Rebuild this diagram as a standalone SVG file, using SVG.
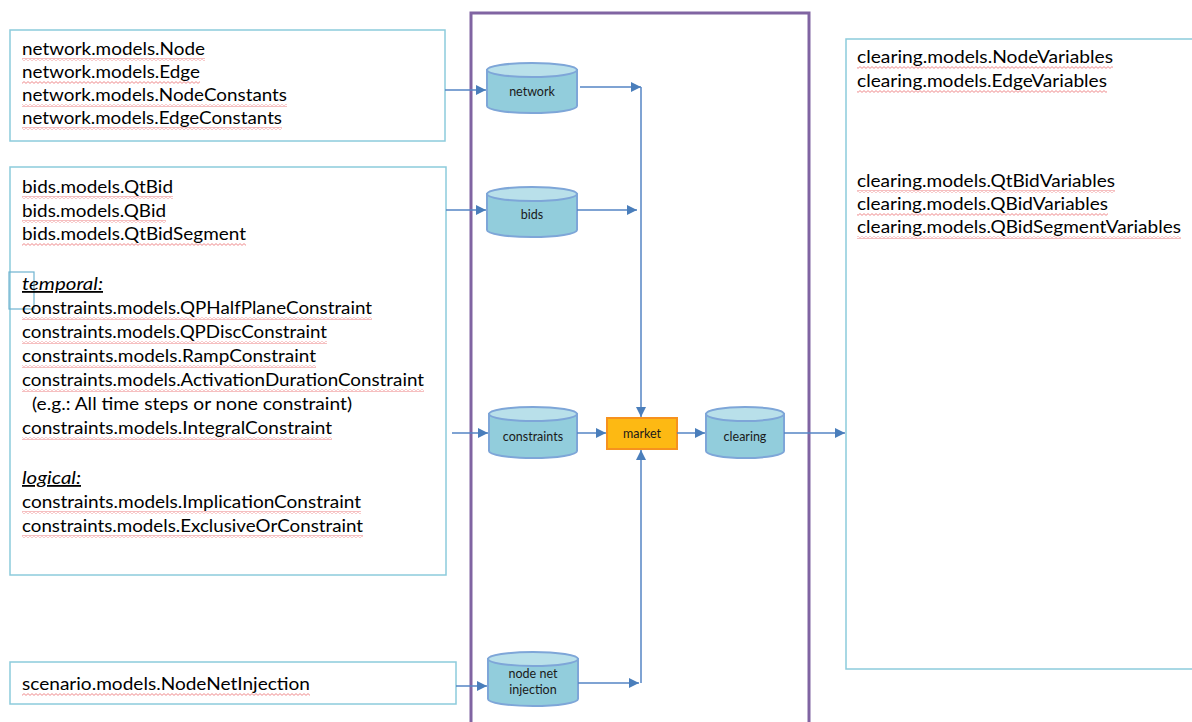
<svg xmlns="http://www.w3.org/2000/svg" width="1192" height="722" viewBox="0 0 1192 722">
<style>
.box{fill:#fff;stroke:#8ccbdc;stroke-width:1.5}
.t{font-family:Lato,"Open Sans","Liberation Sans",sans-serif;font-size:18px;fill:#000}
.it{font-style:italic;text-decoration:underline}
.cyl{fill:#92cddc;stroke:#7ea6d8;stroke-width:2}
.cyltop{fill:#b9e0ea;stroke:#7ea6d8;stroke-width:2}
.cl{font-family:Lato,"Open Sans","Liberation Sans",sans-serif;font-size:12.5px;fill:#1a1a1a;text-anchor:middle}
.c{fill:none;stroke:#5585c5;stroke-width:1.5}
.wave{fill:url(#wv)}
</style>
<defs>
<marker id="ah" markerUnits="userSpaceOnUse" markerWidth="12" markerHeight="10" refX="10" refY="5" orient="auto">
<path d="M0,0 L10,5 L0,10 Z" fill="#4a7ebb"/>
</marker>
<pattern id="wv" patternUnits="userSpaceOnUse" width="4" height="3">
<path d="M0,0.6 L2,2.4 L4,0.6" fill="none" stroke="#e8595c" stroke-width="0.7"/>
</pattern>
</defs>
<rect width="1192" height="722" fill="#fff"/>

<g id="frame">
<rect x="471" y="13" width="338" height="720" fill="none" stroke="#8064a2" stroke-width="3"/>
</g>

<g id="box-network">
<rect class="box" x="10" y="30" width="435" height="111"/>
<text class="t" x="22" y="55" textLength="183" lengthAdjust="spacingAndGlyphs">network.models.Node</text>
<text class="t" x="22" y="78" textLength="178" lengthAdjust="spacingAndGlyphs">network.models.Edge</text>
<text class="t" x="22" y="101" textLength="265" lengthAdjust="spacingAndGlyphs">network.models.NodeConstants</text>
<text class="t" x="22" y="124" textLength="260" lengthAdjust="spacingAndGlyphs">network.models.EdgeConstants</text>
<rect class="wave" x="22" y="58" width="183" height="3"/>
<rect class="wave" x="22" y="81" width="178" height="3"/>
<rect class="wave" x="22" y="104" width="265" height="3"/>
<rect class="wave" x="22" y="127" width="260" height="3"/>
</g>

<g id="box-bids">
<rect class="box" x="10" y="167" width="436" height="408"/>
<rect x="9" y="272" width="25" height="37" fill="none" stroke="#6fb3d0" stroke-width="1.2"/>
<text class="t" x="22" y="193" textLength="151" lengthAdjust="spacingAndGlyphs">bids.models.QtBid</text>
<text class="t" x="22" y="217" textLength="144" lengthAdjust="spacingAndGlyphs">bids.models.QBid</text>
<text class="t" x="22" y="240" textLength="224" lengthAdjust="spacingAndGlyphs">bids.models.QtBidSegment</text>
<text class="t it" x="22" y="290" textLength="81" lengthAdjust="spacingAndGlyphs">temporal:</text>
<text class="t" x="22" y="314" textLength="350" lengthAdjust="spacingAndGlyphs">constraints.models.QPHalfPlaneConstraint</text>
<text class="t" x="22" y="338" textLength="305" lengthAdjust="spacingAndGlyphs">constraints.models.QPDiscConstraint</text>
<text class="t" x="22" y="362" textLength="294" lengthAdjust="spacingAndGlyphs">constraints.models.RampConstraint</text>
<text class="t" x="22" y="386" textLength="402" lengthAdjust="spacingAndGlyphs">constraints.models.ActivationDurationConstraint</text>
<text class="t" x="32" y="410" textLength="320" lengthAdjust="spacingAndGlyphs">(e.g.: All time steps or none constraint)</text>
<text class="t" x="22" y="434" textLength="310" lengthAdjust="spacingAndGlyphs">constraints.models.IntegralConstraint</text>
<text class="t it" x="22" y="484" textLength="59" lengthAdjust="spacingAndGlyphs">logical:</text>
<text class="t" x="22" y="508" textLength="339" lengthAdjust="spacingAndGlyphs">constraints.models.ImplicationConstraint</text>
<text class="t" x="22" y="532" textLength="341" lengthAdjust="spacingAndGlyphs">constraints.models.ExclusiveOrConstraint</text>
<rect class="wave" x="22" y="196" width="151" height="3"/>
<rect class="wave" x="22" y="220" width="144" height="3"/>
<rect class="wave" x="22" y="243" width="224" height="3"/>
<rect class="wave" x="22" y="317" width="350" height="3"/>
<rect class="wave" x="22" y="341" width="305" height="3"/>
<rect class="wave" x="22" y="365" width="294" height="3"/>
<rect class="wave" x="22" y="389" width="402" height="3"/>
<rect class="wave" x="22" y="437" width="310" height="3"/>
<rect class="wave" x="22" y="511" width="339" height="3"/>
<rect class="wave" x="22" y="535" width="341" height="3"/>
</g>

<g id="box-scenario">
<rect class="box" x="10" y="662" width="446" height="42"/>
<text class="t" x="22" y="690" textLength="288" lengthAdjust="spacingAndGlyphs">scenario.models.NodeNetInjection</text>
<rect class="wave" x="22" y="693" width="288" height="3"/>
</g>

<g id="box-clearing">
<rect class="box" x="846" y="39" width="360" height="630"/>
<text class="t" x="857" y="63" textLength="256" lengthAdjust="spacingAndGlyphs">clearing.models.NodeVariables</text>
<text class="t" x="857" y="87" textLength="250" lengthAdjust="spacingAndGlyphs">clearing.models.EdgeVariables</text>
<text class="t" x="857" y="187" textLength="258" lengthAdjust="spacingAndGlyphs">clearing.models.QtBidVariables</text>
<text class="t" x="857" y="210" textLength="251" lengthAdjust="spacingAndGlyphs">clearing.models.QBidVariables</text>
<text class="t" x="857" y="233" textLength="324" lengthAdjust="spacingAndGlyphs">clearing.models.QBidSegmentVariables</text>
<rect class="wave" x="857" y="66" width="256" height="3"/>
<rect class="wave" x="857" y="90" width="250" height="3"/>
<rect class="wave" x="857" y="190" width="258" height="3"/>
<rect class="wave" x="857" y="213" width="251" height="3"/>
<rect class="wave" x="857" y="236" width="324" height="3"/>
</g>

<g id="cyl-network">
<path class="cyl" d="M487,70 V106 A45,7 0 0 0 577,106 V70 Z"/>
<ellipse class="cyltop" cx="532" cy="70" rx="45" ry="7"/>
<text class="cl" x="532" y="96">network</text>
</g>

<g id="cyl-bids">
<path class="cyl" d="M487,194 V230 A45,7 0 0 0 577,230 V194 Z"/>
<ellipse class="cyltop" cx="532" cy="194" rx="45" ry="7"/>
<text class="cl" x="532" y="219">bids</text>
</g>

<g id="cyl-constraints">
<path class="cyl" d="M489,414 V451 A44,7 0 0 0 577,451 V414 Z"/>
<ellipse class="cyltop" cx="533" cy="414" rx="44" ry="7"/>
<text class="cl" x="533" y="441">constraints</text>
</g>

<g id="market">
<rect x="607" y="418" width="70" height="31" fill="#fdb913" stroke="#f6921e" stroke-width="2"/>
<text class="cl" x="642" y="438">market</text>
</g>

<g id="cyl-clearing">
<path class="cyl" d="M706,414 V451 A39,7 0 0 0 784,451 V414 Z"/>
<ellipse class="cyltop" cx="745" cy="414" rx="39" ry="7"/>
<text class="cl" x="745" y="441">clearing</text>
</g>

<g id="cyl-nodenet">
<path class="cyl" d="M488,659 V699 A45,7 0 0 0 578,699 V659 Z"/>
<ellipse class="cyltop" cx="533" cy="659" rx="45" ry="7"/>
<text class="cl" x="533" y="678">node net</text>
<text class="cl" x="533" y="694">injection</text>
</g>

<g id="connectors">
<path class="c" d="M445,90 H486" marker-end="url(#ah)"/>
<path class="c" d="M580,87 H641" marker-end="url(#ah)"/>
<path class="c" d="M446,210 H486" marker-end="url(#ah)"/>
<path class="c" d="M577,210 H637" marker-end="url(#ah)"/>
<path class="c" d="M641,87 V417" marker-end="url(#ah)"/>
<path class="c" d="M452,433 H488" marker-end="url(#ah)"/>
<path class="c" d="M577,433 H606" marker-end="url(#ah)"/>
<path class="c" d="M677,433 H705" marker-end="url(#ah)"/>
<path class="c" d="M784,433 H845" marker-end="url(#ah)"/>
<path class="c" d="M641,683 V450" marker-end="url(#ah)"/>
<path class="c" d="M456,686 H487" marker-end="url(#ah)"/>
<path class="c" d="M578,683 H639" marker-end="url(#ah)"/>
</g>
</svg>
